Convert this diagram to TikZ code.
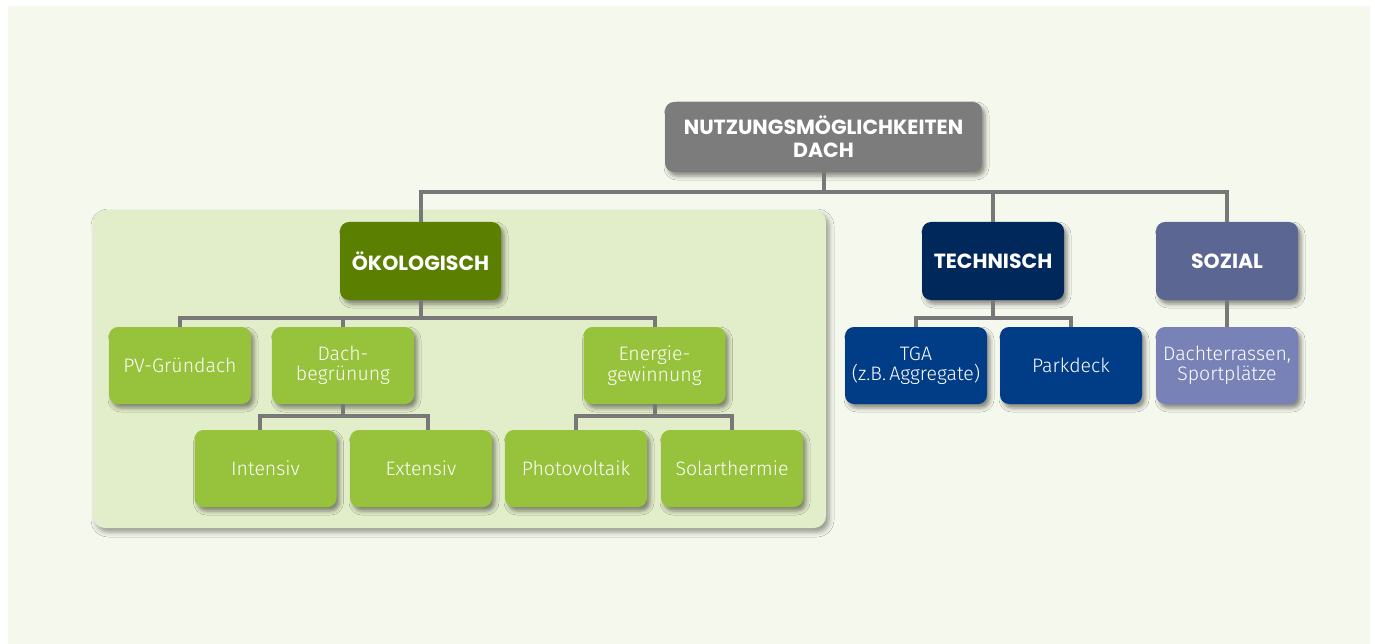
\documentclass[tikz,border=0pt]{standalone}
\usepackage{fontspec}
\setmainfont{Fira Sans Light}
\newfontfamily\headfont{Poppins}
\usetikzlibrary{shadows.blur}
\definecolor{bgcol}{HTML}{F5F8EC}
\definecolor{panelcol}{HTML}{E2EDCA}
\definecolor{rootcol}{HTML}{7B7C7B}
\definecolor{linkcol}{HTML}{777877}
\definecolor{ecocol}{HTML}{5B7F00}
\definecolor{leafcol}{HTML}{97C23B}
\definecolor{techcol}{HTML}{00285B}
\definecolor{techleaf}{HTML}{013D86}
\definecolor{sozcol}{HTML}{5B6792}
\definecolor{sozleaf}{HTML}{7882B6}
\begin{document}
\begin{tikzpicture}[x=1pt,y=-1pt,
    box/.style={rounded corners=9pt, align=center, text=white, inner sep=2pt,
      minimum width=142pt, minimum height=77pt,
      blur shadow={shadow xshift=3pt, shadow yshift=-4pt, shadow blur radius=4pt, shadow opacity=45}},
    headbox/.style={box, font=\headfont\bfseries\fontsize{20.5}{23}\selectfont, minimum height=78pt},
    leafbox/.style={box, fill=leafcol, font=\fontsize{19.5}{20.5}\selectfont},
    link/.style={draw=linkcol, line width=4pt}]
  \useasboundingbox (0,0) rectangle (1375,644);
  \fill[bgcol] (8,6) rectangle (1370,644);
  % panel for the ecological branch
  \fill[panelcol, rounded corners=12pt,
    blur shadow={shadow xshift=3pt, shadow yshift=-4pt, shadow blur radius=5pt, shadow opacity=40}]
    (93,210) rectangle (826,528);

  \node[headbox, fill=rootcol, minimum width=317pt, minimum height=70pt] (root) at (823.5,137)
    {NUTZUNGSMÖGLICHKEITEN\\DACH};
  \node[headbox, fill=ecocol, minimum width=161pt] (eco) at (420.5,261) {ÖKOLOGISCH};
  \node[headbox, fill=techcol] (tech) at (993,261) {TECHNISCH};
  \node[headbox, fill=sozcol] (soz) at (1227,261) {SOZIAL};

  \node[leafbox] (pv) at (180,365.5) {PV-Gründach};
  \node[leafbox] (dach) at (343,365.5) {Dach-\\begrünung};
  \node[leafbox] (energie) at (654.5,365.5) {Energie-\\gewinnung};
  \node[leafbox] (intensiv) at (265.5,468.5) {Intensiv};
  \node[leafbox] (extensiv) at (421,468.5) {Extensiv};
  \node[leafbox] (pvolt) at (576,468.5) {Photovoltaik};
  \node[leafbox] (solar) at (732,468.5) {Solarthermie};

  \node[leafbox, fill=techleaf] (tga) at (916,365.5) {TGA\\(z.B.\,Aggregate)};
  \node[leafbox, fill=techleaf] (park) at (1071,365.5) {Parkdeck};
  \node[leafbox, fill=sozleaf] (terr) at (1227,365.5) {Dachterrassen,\\Sportplätze};

  \coordinate (topbus) at (823.5,192);
  \coordinate (ecobus) at (420.5,318);
  \coordinate (dachbus) at (343,416);
  \coordinate (energiebus) at (654.5,416);
  \coordinate (techbus) at (993,318);

  \begin{scope}[link]
    \draw (root) -- (topbus);
    \draw (eco.north) -- (eco.north |- topbus) -- (soz.north |- topbus) -- (soz.north);
    \draw (tech.north) -- (tech.north |- topbus);
    \draw (eco) -- (ecobus);
    \draw (pv.north) -- (pv.north |- ecobus) -- (energie.north |- ecobus) -- (energie.north);
    \draw (dach.north) -- (dach.north |- ecobus);
    \draw (dach) -- (dachbus);
    \draw ([xshift=-6pt]intensiv.north) -- ([xshift=-6pt]intensiv.north |- dachbus)
      -- ([xshift=7pt]extensiv.north |- dachbus) -- ([xshift=7pt]extensiv.north);
    \draw (energie) -- (energiebus);
    \draw (pvolt.north) -- (pvolt.north |- energiebus) -- (solar.north |- energiebus) -- (solar.north);
    \draw (tech) -- (techbus);
    \draw (tga.north) -- (tga.north |- techbus) -- (park.north |- techbus) -- (park.north);
    \draw (soz) -- (terr);
  \end{scope}
\end{tikzpicture}
\end{document}
